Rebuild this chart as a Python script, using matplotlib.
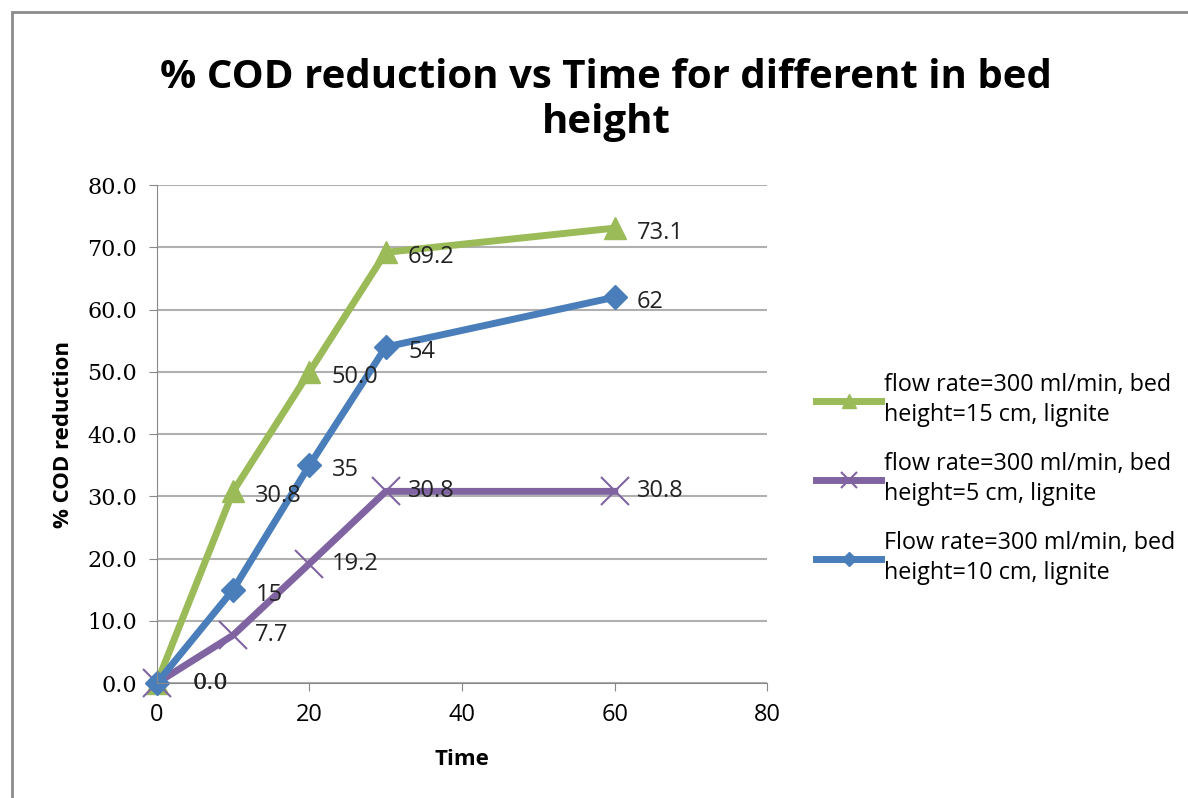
import matplotlib.pyplot as plt
from matplotlib.patches import Rectangle

time = [0, 10, 20, 30, 60]
cod_15cm = [0.0, 30.8, 50.0, 69.2, 73.1]
cod_5cm = [0.0, 7.7, 19.2, 30.8, 30.8]
cod_10cm = [0, 15, 35, 54, 62]
labels_15cm = ["0.0", "30.8", "50.0", "69.2", "73.1"]
labels_5cm = ["0.0", "7.7", "19.2", "30.8", "30.8"]
labels_10cm = ["0", "15", "35", "54", "62"]

green = "#9BBB59"
purple = "#8064A2"
blue = "#4A7EBB"

fig = plt.figure(figsize=(11.88, 7.98), dpi=100)
ax = fig.add_axes([0.132, 0.144, 0.514, 0.624])

# outer chart frame
fig.patches.append(Rectangle((12 / 1188, -0.05), 1.1, 1 - 12 / 798 + 0.05,
                             transform=fig.transFigure, fill=False,
                             edgecolor="#8c8c8c", linewidth=2))

ax.plot(time, cod_15cm, color=green, lw=5, marker="^", ms=16, clip_on=False,
        label="flow rate=300 ml/min, bed\nheight=15 cm, lignite")
ax.plot(time, cod_5cm, color=purple, lw=5, marker="x", ms=20, mew=1.5,
        clip_on=False, label="flow rate=300 ml/min, bed\nheight=5 cm, lignite")
ax.plot(time, cod_10cm, color=blue, lw=5, marker="D", ms=12, clip_on=False,
        label="Flow rate=300 ml/min, bed\nheight=10 cm, lignite")

for xs, ys, labs, dy in [(time, cod_15cm, labels_15cm, -0.8),
                         (time, cod_5cm, labels_5cm, 0),
                         (time, cod_10cm, labels_10cm, -0.8)]:
    for x, y, t in zip(xs, ys, labs):
        if x == 0:
            if t != "0":
                ax.annotate("0.0", (x, y), xytext=(26, 0),
                            textcoords="offset points", va="center",
                            fontsize=16, family="DejaVu Serif",
                            color="#222222")
            continue
        ax.annotate(t, (x, y + dy), xytext=(16, 0), textcoords="offset points",
                    va="center", ha="left", fontsize=17, color="#222222",
                    family="Open Sans")

ax.set_xlim(0, 80)
ax.set_ylim(0, 80)
ax.set_xticks(range(0, 81, 20))
ax.set_yticks(range(0, 81, 10))
ax.set_yticklabels([f"{v:.1f}" for v in range(0, 81, 10)],
                   family="DejaVu Serif", fontsize=16)
ax.set_xticklabels([str(v) for v in range(0, 81, 20)],
                   family="Open Sans", fontsize=17)
ax.grid(axis="y", color="#b0b0b0", lw=1.5)
ax.set_axisbelow(True)
for s in ["top", "right"]:
    ax.spines[s].set_visible(False)
for s in ["left", "bottom"]:
    ax.spines[s].set_color("#888888")
ax.tick_params(axis="both", color="#888888", length=6, pad=8)

ax.set_xlabel("Time", fontsize=16, fontweight="bold", family="Open Sans",
              labelpad=16)
ax.set_ylabel("% COD reduction", fontsize=16, fontweight="bold",
              family="Open Sans", labelpad=10)

fig.text(0.51, 0.875, "% COD reduction vs Time for different in bed\nheight",
         ha="center", va="center", fontsize=29, fontweight="bold",
         family="Open Sans", linespacing=1.2)

leg = ax.legend(loc="center left", bbox_to_anchor=(1.045, 0.41), frameon=False,
                handlelength=2.8, handletextpad=0.1, labelspacing=1.1,
                markerscale=0.6, prop={"family": "Open Sans", "size": 16.8})
for t in leg.get_texts():
    t.set_linespacing(1.3)

fig.savefig("out.png", dpi=100)
